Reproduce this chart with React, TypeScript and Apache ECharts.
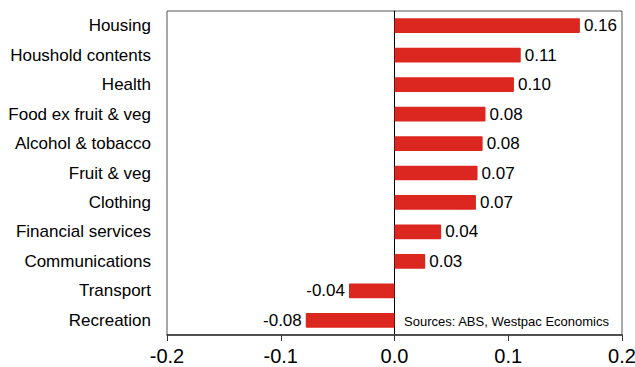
import React, { useEffect, useRef } from "react";
import * as echarts from "echarts";

const categories = [
  "Housing",
  "Houshold contents",
  "Health",
  "Food ex fruit & veg",
  "Alcohol & tobacco",
  "Fruit & veg",
  "Clothing",
  "Financial services",
  "Communications",
  "Transport",
  "Recreation",
];
const values = [0.163, 0.111, 0.105, 0.08, 0.0775, 0.073, 0.0716, 0.041, 0.027, -0.04, -0.078];
const xTicks = [-0.2, -0.1, 0, 0.1, 0.2];
const sourceText = "Sources: ABS, Westpac Economics";

const FONT = "'Liberation Sans', Arial, sans-serif";

export default function App() {
  const ref = useRef<HTMLDivElement>(null);
  useEffect(() => {
    if (!ref.current) return;
    const chart = echarts.init(ref.current, undefined, { renderer: "svg" });
    const cats = [...categories].reverse();
    const vals = [...values].reverse();
    chart.setOption({
      animation: false,
      backgroundColor: "#ffffff",
      grid: {
        left: 167,
        right: 13,
        top: 11,
        bottom: 32,
        show: true,
        borderColor: "#555",
        borderWidth: 1,
        containLabel: false,
        outerBoundsMode: "none",
      },
      xAxis: {
        type: "value",
        min: xTicks[0],
        max: xTicks[xTicks.length - 1],
        interval: 0.1,
        splitLine: { show: false },
        axisLine: { show: true, lineStyle: { color: "#333", width: 1.5 } },
        axisTick: { show: true, inside: false, length: 6, lineStyle: { color: "#333" } },
        axisLabel: {
          color: "#000",
          fontSize: 20,
          fontFamily: FONT,
          margin: 11,
          hideOverlap: false,
          formatter: (v: number) => v.toFixed(1),
        },
      },
      yAxis: {
        type: "category",
        data: cats,
        axisLine: { show: true, onZero: true, lineStyle: { color: "#000", width: 1 } },
        axisTick: { show: false },
        axisLabel: {
          color: "#000",
          fontSize: 17,
          fontFamily: FONT,
          margin: 16,
          formatter: (v: string) => v,
        },
        position: "left",
      },
      series: [
        {
          type: "bar",
          barWidth: "50%",
          data: vals.map((v) => ({
            value: v,
            label: { position: v < 0 ? "left" : "right" },
          })),
          itemStyle: { color: "#dc2620", borderRadius: 1 },
          label: {
            show: true,
            color: "#000",
            fontSize: 17,
            fontFamily: FONT,
            distance: 4,
            formatter: (p: any) => (p.value as number).toFixed(2),
          },
        },
      ],
      graphic: [
        {
          type: "text",
          left: 404,
          top: 315,
          style: {
            text: sourceText,
            fill: "#000",
            fontSize: 13,
            fontFamily: FONT,
          },
        },
      ],
    });
    return () => chart.dispose();
  }, []);
  return (
    <div
      ref={ref}
      style={{ width: 635, height: 367, position: "fixed", left: 0, top: 0 }}
    />
  );
}
